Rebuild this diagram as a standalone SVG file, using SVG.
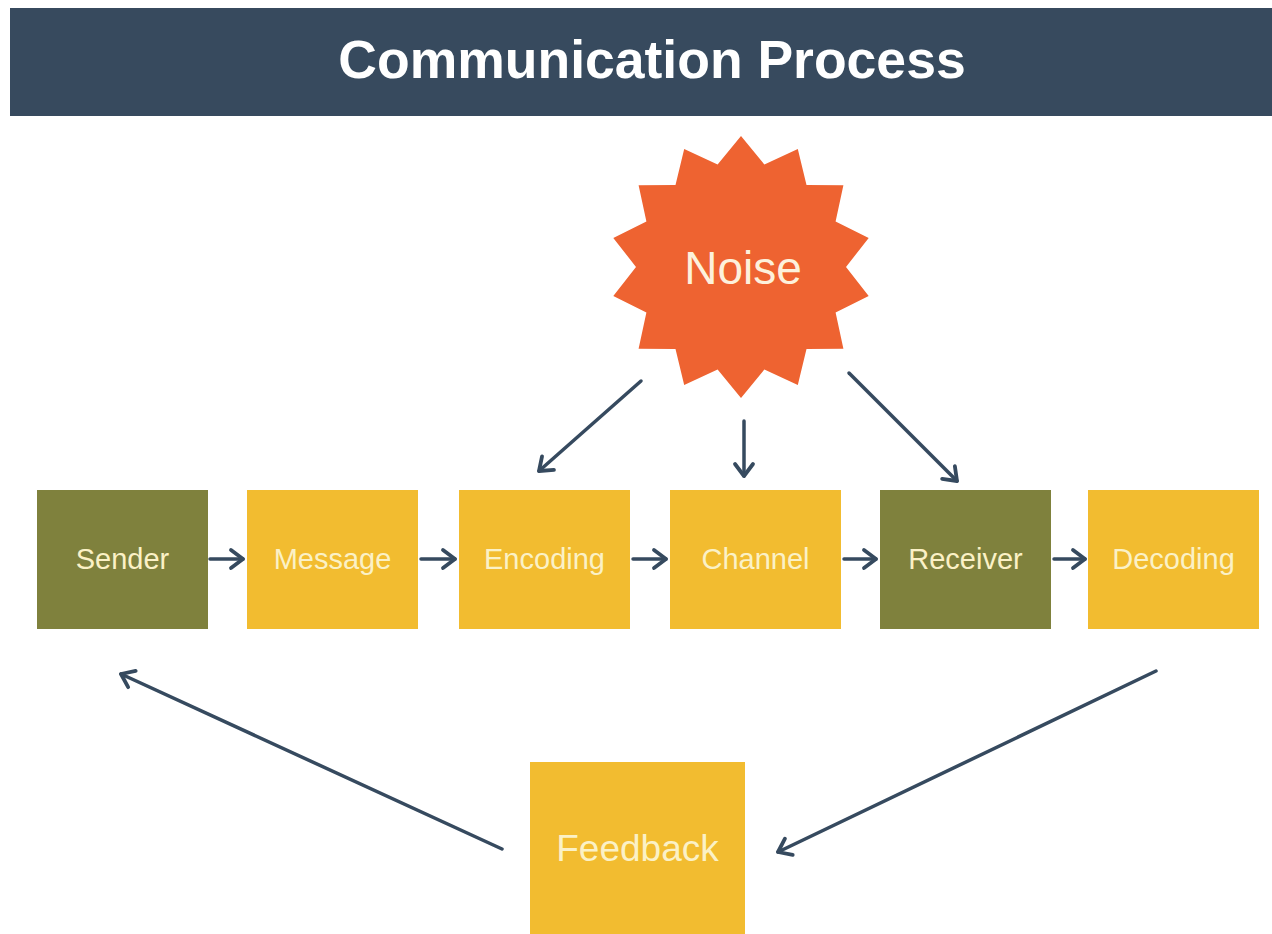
<svg xmlns="http://www.w3.org/2000/svg" width="1272" height="934" viewBox="0 0 1272 934">
  <style>
    .olive { fill: #7f813d; }
    .yellow { fill: #f2bc30; }
    .lbl { font-family: "Liberation Sans", Arial, sans-serif; font-size: 29px; fill: #fbf1c6; text-anchor: middle; }
    .conn { stroke: #364a5f; stroke-width: 3.5; fill: none; stroke-linecap: round; marker-end: url(#arrow); }
  </style>
  <defs>
    <marker id="arrow" markerUnits="userSpaceOnUse" viewBox="0 0 24 24" markerWidth="24" markerHeight="24" refX="18" refY="12" orient="auto">
      <path d="M6,3 L18,12 L6,21" fill="none" stroke="#364a5f" stroke-width="3.8" stroke-linecap="round" stroke-linejoin="round"/>
    </marker>
  </defs>
  <rect width="1272" height="934" fill="#ffffff"/>

  <g id="header">
    <rect x="10" y="8" width="1262" height="108" fill="#374a5e"/>
    <text x="652" y="78" font-family="Liberation Sans, Arial, sans-serif" font-size="53.5" font-weight="bold" fill="#ffffff" text-anchor="middle">Communication Process</text>
  </g>

  <g id="noise">
    <polygon fill="#ee6331" points="741,136 764.4,164.6 797.8,149 806.5,184.9 843.4,185.3 835.6,221.4 868.7,237.9 846,267 868.7,296.1 835.6,312.6 843.4,348.7 806.5,349.1 797.8,385 764.4,369.4 741,398 717.6,369.4 684.2,385 675.5,349.1 638.6,348.7 646.4,312.6 613.3,296.1 636,267 613.3,237.9 646.4,221.4 638.6,185.3 675.5,184.9 684.2,149 717.6,164.6"/>
    <text x="743" y="284" font-family="Liberation Sans, Arial, sans-serif" font-size="46" fill="#fdf1dc" text-anchor="middle">Noise</text>
  </g>

  <g id="sender">
    <rect class="olive" x="37" y="490" width="171" height="139"/>
    <text class="lbl" x="122.5" y="569">Sender</text>
  </g>
  <g id="message">
    <rect class="yellow" x="247" y="490" width="171" height="139"/>
    <text class="lbl" x="332.5" y="569">Message</text>
  </g>
  <g id="encoding">
    <rect class="yellow" x="459" y="490" width="171" height="139"/>
    <text class="lbl" x="544.5" y="569">Encoding</text>
  </g>
  <g id="channel">
    <rect class="yellow" x="670" y="490" width="171" height="139"/>
    <text class="lbl" x="755.5" y="569">Channel</text>
  </g>
  <g id="receiver">
    <rect class="olive" x="880" y="490" width="171" height="139"/>
    <text class="lbl" x="965.5" y="569">Receiver</text>
  </g>
  <g id="decoding">
    <rect class="yellow" x="1088" y="490" width="171" height="139"/>
    <text class="lbl" x="1173.5" y="569">Decoding</text>
  </g>
  <g id="feedback">
    <rect class="yellow" x="530" y="762" width="215" height="172"/>
    <text class="lbl" x="637.5" y="861" style="font-size:37px">Feedback</text>
  </g>

  <g id="connectors">
    <line class="conn" x1="210" y1="559" x2="243" y2="559"/>
    <line class="conn" x1="421" y1="559" x2="455" y2="559"/>
    <line class="conn" x1="633" y1="559" x2="666" y2="559"/>
    <line class="conn" x1="844" y1="559" x2="876" y2="559"/>
    <line class="conn" x1="1054" y1="559" x2="1085" y2="559"/>
    <line class="conn" x1="641" y1="381" x2="539" y2="471"/>
    <line class="conn" x1="744" y1="421" x2="744" y2="476"/>
    <line class="conn" x1="849" y1="373" x2="957" y2="481"/>
    <line class="conn" x1="502" y1="849" x2="121" y2="674"/>
    <line class="conn" x1="1156" y1="671" x2="778" y2="852"/>
  </g>
</svg>
